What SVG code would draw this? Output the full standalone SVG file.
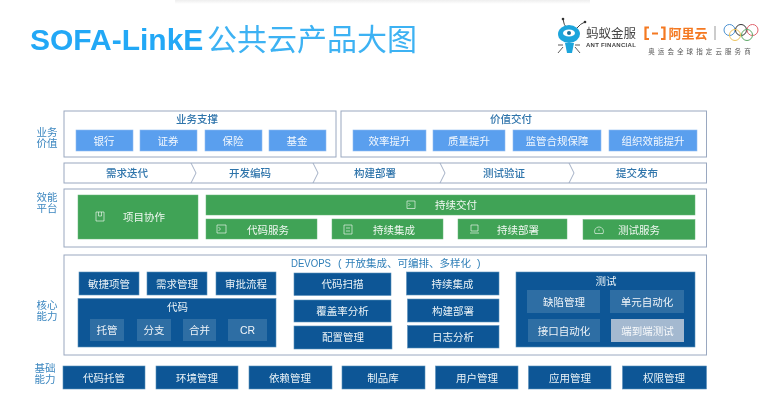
<svg xmlns="http://www.w3.org/2000/svg" width="780" height="412" viewBox="0 0 780 412">
<style>
text{font-family:"Liberation Sans","Noto Sans CJK SC",sans-serif;text-anchor:middle;dominant-baseline:central}
.panel{fill:#fff;stroke:#9aa8c0;stroke-width:1}
.lb{fill:#5a9fee;stroke:#8fbdf2;stroke-width:.6}
.gr{fill:#41a356;stroke:#66b877;stroke-width:.5}
.nv{fill:#0a5796;stroke:#5d90bb;stroke-width:.6}
.sb{fill:#2f6ea4}
.tw{fill:#fff;font-size:10.5px;fill-opacity:.92}
.tb{fill:#2f74ab;font-size:10.5px;font-weight:500}
.side{fill:#3c87c0;font-size:10.5px}
.ic{fill:none;stroke:#fff;stroke-opacity:.75;stroke-width:.8}
.ch{fill:none;stroke:#9aa8c0;stroke-width:.9}
</style>
<defs>
<linearGradient id="sh" x1="0" y1="0" x2="0" y2="1"><stop offset="0" stop-color="#eeeeee"/><stop offset="1" stop-color="#fff"/></linearGradient>
<filter id="soft" x="-2%" y="-2%" width="104%" height="104%"><feGaussianBlur stdDeviation="0.4"/></filter>
</defs>
<rect width="780" height="412" fill="#fff"/>
<rect x="175" y="0" width="415" height="4" fill="url(#sh)"/>
<g filter="url(#soft)">
<g id="title">
<text x="30" y="39" style="text-anchor:start;font-size:30px;font-weight:bold" fill="#22a8f6">SOFA-LinkE</text>
<text x="207" y="39" style="text-anchor:start;font-size:30px" fill="#3db2f3">公共云产品大图</text>
</g>
<g id="logo">
<path d="M568 30Q563 24 563 19M576 29Q581 23 585 22" fill="none" stroke="#444" stroke-width="1"/>
<circle cx="563" cy="19" r="1.3" fill="#333"/><circle cx="585" cy="22" r="1.3" fill="#333"/>
<ellipse cx="569" cy="34" rx="11" ry="9" fill="#1fa5dc"/>
<ellipse cx="569" cy="33" rx="6" ry="3.6" fill="#fff"/><circle cx="569" cy="33" r="2" fill="#1b6f98"/>
<path d="M565 43H574L572 53H567Z" fill="#1fa5dc"/>
<path d="M558 53L563 47M580 53L575 47M558 45H563M575 45H580" stroke="#333" stroke-width=".8" fill="none"/>
<text x="611" y="33.500" style="font-size:12.5px" fill="#444">蚂蚁金服</text>
<text x="611" y="44.500" style="font-size:6px;font-weight:bold;letter-spacing:.3px" fill="#444">ANT FINANCIAL</text>
<path d="M649 27.500H645.500V39H649M661 27.500H664.500V39H661M652 33.500H658" fill="none" stroke="#f47920" stroke-width="2.200"/>
<text x="688" y="33" style="font-size:13px;font-weight:bold" fill="#f47920">阿里云</text>
<path d="M715 26V40" stroke="#999" stroke-width="1"/>
<g fill="none" stroke-width="1">
<circle cx="729.500" cy="30" r="5.500" stroke="#4a90d0"/><circle cx="741" cy="30" r="5.500" stroke="#333"/><circle cx="752.500" cy="30" r="5.500" stroke="#e0606a"/><circle cx="735" cy="35" r="5.500" stroke="#edc35c"/><circle cx="747" cy="35" r="5.500" stroke="#5fa868"/>
</g>
<text x="701" y="51" style="font-size:6.500px;letter-spacing:3.100px" fill="#555">奥运会全球指定云服务商</text>
</g>
<g id="side-labels">
<text class="side" x="47" y="132">业务</text><text class="side" x="47" y="143">价值</text>
<text class="side" x="47" y="197">效能</text><text class="side" x="47" y="208">平台</text>
<text class="side" x="47" y="305">核心</text><text class="side" x="47" y="316">能力</text>
<text class="side" x="45" y="368">基础</text><text class="side" x="45" y="379">能力</text>
</g>
<g id="business-support">
<rect class="panel" x="64" y="111" width="272" height="46"/>
<text class="tb" x="197" y="118.500">业务支撑</text>
<rect class="lb" x="76" y="130" width="57" height="21"/><text class="tw" x="104" y="140.500">银行</text>
<rect class="lb" x="140" y="130" width="57" height="21"/><text class="tw" x="168" y="140.500">证券</text>
<rect class="lb" x="205" y="130" width="57" height="21"/><text class="tw" x="233" y="140.500">保险</text>
<rect class="lb" x="269" y="130" width="57" height="21"/><text class="tw" x="297" y="140.500">基金</text>
</g>
<g id="value-delivery">
<rect class="panel" x="341" y="111" width="365.500" height="46"/>
<text class="tb" x="511" y="118.500">价值交付</text>
<rect class="lb" x="353" y="130" width="73" height="21"/><text class="tw" x="389.500" y="140.500">效率提升</text>
<rect class="lb" x="433" y="130" width="72" height="21"/><text class="tw" x="469" y="140.500">质量提升</text>
<rect class="lb" x="513" y="130" width="88" height="21"/><text class="tw" x="557" y="140.500">监管合规保障</text>
<rect class="lb" x="609" y="130" width="88" height="21"/><text class="tw" x="653" y="140.500">组织效能提升</text>
</g>
<g id="process">
<rect class="panel" x="64" y="163" width="642.500" height="20"/>
<path class="ch" d="M191 163L196 173L191 183M313 163L318 173L313 183M440 163L445 173L440 183M569 163L574 173L569 183"/>
<text class="tb" x="127" y="173">需求迭代</text>
<text class="tb" x="250" y="173">开发编码</text>
<text class="tb" x="375" y="173">构建部署</text>
<text class="tb" x="504" y="173">测试验证</text>
<text class="tb" x="637" y="173">提交发布</text>
</g>
<g id="platform">
<rect class="panel" x="64" y="189" width="642.500" height="58"/>
<rect class="gr" x="78" y="195" width="120" height="44"/>
<path class="ic" d="M96 212H104V221H96ZM98.500 212V216H101.500V212"/><text class="tw" x="144" y="217">项目协作</text>
<rect class="gr" x="206" y="195" width="489" height="20"/>
<path class="ic" d="M407 201H415V208.500H407ZM408.500 203L410 204.500L408.500 206"/><text class="tw" x="456" y="205">持续交付</text>
<rect class="gr" x="206" y="219" width="111" height="20"/>
<path class="ic" d="M217 225H226V233H217ZM218.500 227L220.500 229L218.500 231"/><text class="tw" x="268" y="229.500">代码服务</text>
<rect class="gr" x="332" y="219" width="111" height="20"/>
<path class="ic" d="M344 225H352V234H344ZM346 228H350M346 231H350"/><text class="tw" x="394" y="229.500">持续集成</text>
<rect class="gr" x="458" y="219" width="109" height="20"/>
<path class="ic" d="M471 225H478V231H471ZM470 233H479"/><text class="tw" x="518" y="229.500">持续部署</text>
<rect class="gr" x="583" y="219.500" width="112" height="20"/>
<path class="ic" d="M595 233.500A4.500 4.500 0 1 1 603 233.500ZM599 229V231"/><text class="tw" x="639" y="229.500">测试服务</text>
</g>
<g id="devops">
<rect class="panel" x="64" y="255" width="642.500" height="100"/>
<text y="262.500" style="font-size:10.500px;text-anchor:start" fill="#2f7fb8"><tspan x="291" style="font-size:11px" textLength="40" lengthAdjust="spacingAndGlyphs">DEVOPS</tspan><tspan x="338">(</tspan><tspan x="345">开放集成、可编排、多样化</tspan><tspan x="477">)</tspan></text>
<rect class="nv" x="79" y="272" width="60" height="23"/><text class="tw" x="109" y="283.500">敏捷项管</text>
<rect class="nv" x="147" y="272" width="60" height="23"/><text class="tw" x="177" y="283.500">需求管理</text>
<rect class="nv" x="216" y="272" width="60" height="23"/><text class="tw" x="246" y="283.500">审批流程</text>
<rect class="nv" x="78" y="298.500" width="198" height="48.500"/><text class="tw" x="177.500" y="307">代码</text>
<rect class="sb" x="90" y="319" width="34" height="22"/><text class="tw" x="107" y="330">托管</text>
<rect class="sb" x="137" y="319" width="34" height="22"/><text class="tw" x="154" y="330">分支</text>
<rect class="sb" x="183" y="319" width="33" height="22"/><text class="tw" x="199.500" y="330">合并</text>
<rect class="sb" x="228" y="319" width="39" height="22"/><text class="tw" x="247.500" y="330">CR</text>
<rect class="nv" x="294" y="273" width="97" height="22.500"/><text class="tw" x="342.500" y="284">代码扫描</text>
<rect class="nv" x="294" y="300" width="97" height="22"/><text class="tw" x="342.500" y="311">覆盖率分析</text>
<rect class="nv" x="294" y="326" width="98" height="23"/><text class="tw" x="343" y="337">配置管理</text>
<rect class="nv" x="406.500" y="272" width="92.500" height="23"/><text class="tw" x="452.500" y="283.500">持续集成</text>
<rect class="nv" x="407.500" y="299" width="91.500" height="23"/><text class="tw" x="453" y="310.500">构建部署</text>
<rect class="nv" x="407.500" y="325.500" width="91.500" height="22.500"/><text class="tw" x="453" y="336.500">日志分析</text>
<rect class="nv" x="516" y="272" width="179" height="75"/><text class="tw" x="606" y="280.500">测试</text>
<rect class="sb" x="527" y="290" width="73" height="23"/><text class="tw" x="564" y="301.500">缺陷管理</text>
<rect class="sb" x="610" y="290" width="74" height="23"/><text class="tw" x="647" y="301.500">单元自动化</text>
<rect class="sb" x="528" y="319" width="72" height="23"/><text class="tw" x="564" y="330.500">接口自动化</text>
<rect x="611" y="319" width="73" height="23" fill="#a4b9d0"/><text class="tw" x="647.500" y="330.500">端到端测试</text>
</g>
<g id="foundation">
<rect class="nv" x="63" y="366" width="82" height="23"/><text class="tw" x="104" y="377.500">代码托管</text>
<rect class="nv" x="156" y="366" width="82" height="23"/><text class="tw" x="197" y="377.500">环境管理</text>
<rect class="nv" x="249" y="366" width="83" height="23"/><text class="tw" x="290" y="377.500">依赖管理</text>
<rect class="nv" x="342" y="366" width="83" height="23"/><text class="tw" x="383" y="377.500">制品库</text>
<rect class="nv" x="435.500" y="366" width="82.500" height="23"/><text class="tw" x="477" y="377.500">用户管理</text>
<rect class="nv" x="528.500" y="366" width="82.500" height="23"/><text class="tw" x="570" y="377.500">应用管理</text>
<rect class="nv" x="622.500" y="366" width="84" height="23"/><text class="tw" x="664" y="377.500">权限管理</text>
</g>
</g>
</svg>
